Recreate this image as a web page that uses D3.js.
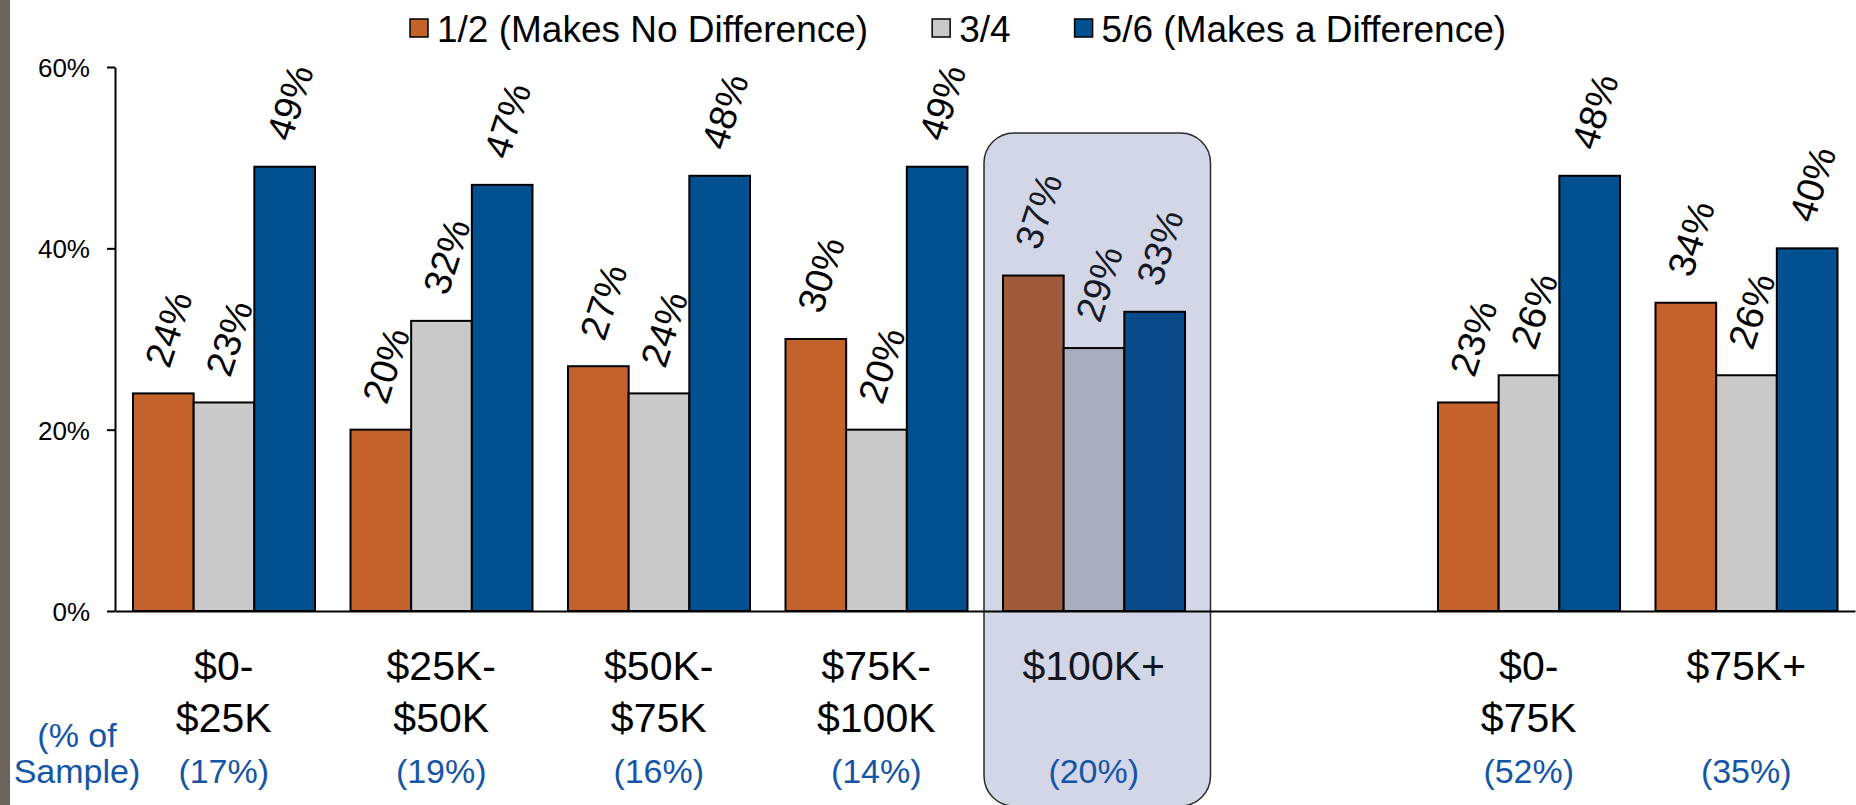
<!DOCTYPE html>
<html>
<head>
<meta charset="utf-8">
<script src="https://cdn.jsdelivr.net/npm/d3@7"></script>
<style>
  html, body { margin: 0; padding: 0; background: #ffffff; }
  svg { display: block; font-family: "Liberation Sans", Arial, sans-serif; }
</style>
</head>
<body>
<svg id="chart" width="1856" height="805"></svg>
<script>
// ---------- data ----------
const slots = ["g1", "g2", "g3", "g4", "g5", "gap", "g6", "g7"];
const categoryLines = [["$0-", "$25K"], ["$25K-", "$50K"], ["$50K-", "$75K"], ["$75K-", "$100K"], ["$100K+"], [], ["$0-", "$75K"], ["$75K+"]];
const sampleShare = ["(17%)", "(19%)", "(16%)", "(14%)", "(20%)", "", "(52%)", "(35%)"];
const seriesNames = ["1/2 (Makes No Difference)", "3/4", "5/6 (Makes a Difference)"];
const noDifference = [24, 20, 27, 30, 37, null, 23, 34];
const middle = [23, 32, 24, 20, 29, null, 26, 26];
const makesDifference = [49, 47, 48, 49, 33, null, 48, 40];
const yTicks = [0, 20, 40, 60];
const highlightSlot = "g5";

// ---------- styles ----------
const colors = ["#C4622B", "#C9C9C9", "#01508F"];
const colorsHighlighted = ["#9E5A3B", "#A9ADBD", "#0B4A8A"];
const sampleColor = "#1555A6";

const svg = d3.select("#chart");
const seriesValues = [noDifference, middle, makesDifference];

const x = d3.scaleBand().domain(slots).range([115, 1855]).paddingInner(0).paddingOuter(0);
const xs = d3.scaleBand().domain(seriesNames).range([18, 18 + 182]);
const y = d3.scaleLinear().domain([0, 60]).range([611, 67]);

// left strip
svg.append("rect").attr("x", 0).attr("y", 0).attr("width", 10).attr("height", 805).attr("fill", "#6B635B");

// highlight box
svg.append("rect")
  .attr("x", x(highlightSlot) - 1)
  .attr("y", 133)
  .attr("width", x.bandwidth() + 9)
  .attr("height", 673)
  .attr("rx", 30).attr("ry", 30)
  .attr("fill", "#D3D6E6")
  .attr("stroke", "#2a2a2a")
  .attr("stroke-width", 1.5);

// bars
const barData = [];
slots.forEach((s, i) => {
  seriesNames.forEach((n, j) => {
    const v = seriesValues[j][i];
    if (v !== null) barData.push({ slot: s, series: n, j, v });
  });
});

svg.append("g").selectAll("rect").data(barData).join("rect")
  .attr("x", d => x(d.slot) + xs(d.series))
  .attr("y", d => y(d.v))
  .attr("width", xs.bandwidth())
  .attr("height", d => y(0) - y(d.v))
  .attr("fill", d => d.slot === highlightSlot ? colorsHighlighted[d.j] : colors[d.j])
  .attr("stroke", "#000")
  .attr("stroke-width", 2);

// value labels
svg.append("g").selectAll("text").data(barData).join("text")
  .attr("transform", d => {
    const cx = x(d.slot) + xs(d.series) + xs.bandwidth() / 2 + 6;
    const cy = y(d.v) - 24;
    return `translate(${cx},${cy}) rotate(-72)`;
  })
  .attr("font-size", 38)
  .attr("fill", d => d.slot === highlightSlot ? "#151a26" : "#000")
  .text(d => d.v + "%");

// y axis
const yAxis = d3.axisLeft(y).tickValues(yTicks).tickFormat(d => d + "%").tickSize(8).tickSizeOuter(0).tickPadding(17);
const gy = svg.append("g").attr("transform", "translate(115,0)").call(yAxis);
gy.select(".domain").attr("stroke", "#000").attr("stroke-width", 2);
gy.selectAll(".tick line").attr("stroke", "#000").attr("stroke-width", 2);
gy.selectAll(".tick text").attr("font-size", 26).attr("fill", "#000")
  .attr("font-family", "'Liberation Sans', Arial, sans-serif").attr("dy", "0.36em");

// x axis baseline
const xAxis = d3.axisBottom(x).tickValues([]).tickSizeOuter(0);
const gx = svg.append("g").attr("transform", `translate(0,${y(0)})`).call(xAxis);
gx.select(".domain").attr("stroke", "#000").attr("stroke-width", 2);

// category labels
slots.forEach((s, i) => {
  const cx = x(s) + x.bandwidth() / 2;
  const t = svg.append("text").attr("x", cx).attr("text-anchor", "middle")
    .attr("font-size", 41).attr("fill", s === highlightSlot ? "#111622" : "#000");
  categoryLines[i].forEach((ln, k) => {
    t.append("tspan").attr("x", cx).attr("y", 680 + k * 52).text(ln);
  });
  if (sampleShare[i]) {
    svg.append("text").attr("x", cx).attr("y", 783).attr("text-anchor", "middle")
      .attr("font-size", 34).attr("fill", sampleColor).text(sampleShare[i]);
  }
});

// "(% of Sample)" label
const st = svg.append("text").attr("text-anchor", "middle").attr("font-size", 34).attr("fill", sampleColor);
st.append("tspan").attr("x", 77).attr("y", 747).text("(% of");
st.append("tspan").attr("x", 77).attr("y", 783).text("Sample)");

// legend
let lx = 410;
seriesNames.forEach((n, j) => {
  svg.append("rect").attr("x", lx).attr("y", 19).attr("width", 18).attr("height", 18)
    .attr("fill", colors[j]).attr("stroke", "#000").attr("stroke-width", 1.5);
  const t = svg.append("text").attr("x", lx + 27).attr("y", 42).attr("font-size", 37).attr("fill", "#000").text(n);
  lx = lx + 27 + t.node().getComputedTextLength() + 64;
});
</script>
</body>
</html>
